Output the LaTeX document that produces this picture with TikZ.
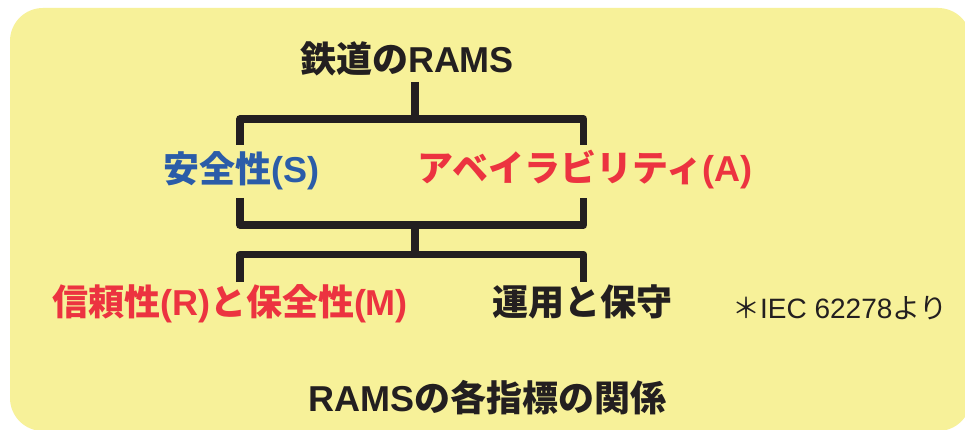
\documentclass[tikz,border=0pt]{standalone}
\usepackage{fontspec}
\setmainfont{Liberation Sans}
\newfontfamily\jp{Noto Sans CJK JP}
\definecolor{bgyellow}{HTML}{F7F199}
\definecolor{ink}{HTML}{231F20}
\definecolor{sblue}{HTML}{2B5CA8}
\definecolor{sred}{HTML}{EC3340}
\tikzset{
  lbl/.style={inner sep=0pt, anchor=base, font=\fontsize{36}{40}\selectfont\bfseries},
  note/.style={inner sep=0pt, anchor=base, font=\fontsize{28}{32}\selectfont, text=ink},
  bracket/.style={draw=ink, line width=7.5pt, line join=round, line cap=butt}
}
\begin{document}
\begin{tikzpicture}[x=1pt,y=-1pt]
\useasboundingbox (0,0) rectangle (965,430);
\clip (0,0) rectangle (965,430);
\fill[white] (0,0) rectangle (965,430);
\fill[bgyellow, rounded corners=33pt] (10,8) rectangle (971,431);

% labels
\node[lbl, text=ink]   (title) at (407,73)  {{\jp 鉄道の}RAMS};
\node[lbl, text=sblue] (safe)  at (241.5,183) {{\jp 安全性}(S)};
\node[lbl, text=sred]  (avail) at (585,182) {{\jp アベイラビリティ}(A)};
\node[lbl, text=sred]  (rm)    at (230,315) {{\jp 信頼性}(R){\jp と保全性}(M)};
\node[lbl, text=ink]   (ops)   at (582.5,315) {\jp 運用と保守};
\node[note]            (src)   at (840,318) {{\jp ＊}IEC 62278{\jp より}};
\node[lbl, text=ink]   (cap)   at (487.5,411) {RAMS{\jp の各指標の関係}};

% junction coordinates
\coordinate (t0) at (415,82);
\coordinate (t1) at (415,119);
\coordinate (tl) at (240,119);
\coordinate (tr) at (583.5,119);
\coordinate (tlb) at (240,145);
\coordinate (trb) at (583.5,145);
\coordinate (ula) at (240,198);
\coordinate (ura) at (583.5,198);
\coordinate (ul) at (240,225);
\coordinate (ur) at (583.5,225);
\coordinate (m0) at (415,225);
\coordinate (m1) at (415,254.5);
\coordinate (bl) at (240,254.5);
\coordinate (br) at (583.5,254.5);
\coordinate (blb) at (240,282);
\coordinate (brb) at (583.5,282);

% connectors
\draw[bracket] (t0) -- (t1);
\draw[bracket] (tlb) -- (tl) -- (tr) -- (trb);
\draw[bracket] (ula) -- (ul) -- (ur) -- (ura);
\draw[bracket] (m0) -- (m1);
\draw[bracket] (blb) -- (bl) -- (br) -- (brb);
\end{tikzpicture}
\end{document}
